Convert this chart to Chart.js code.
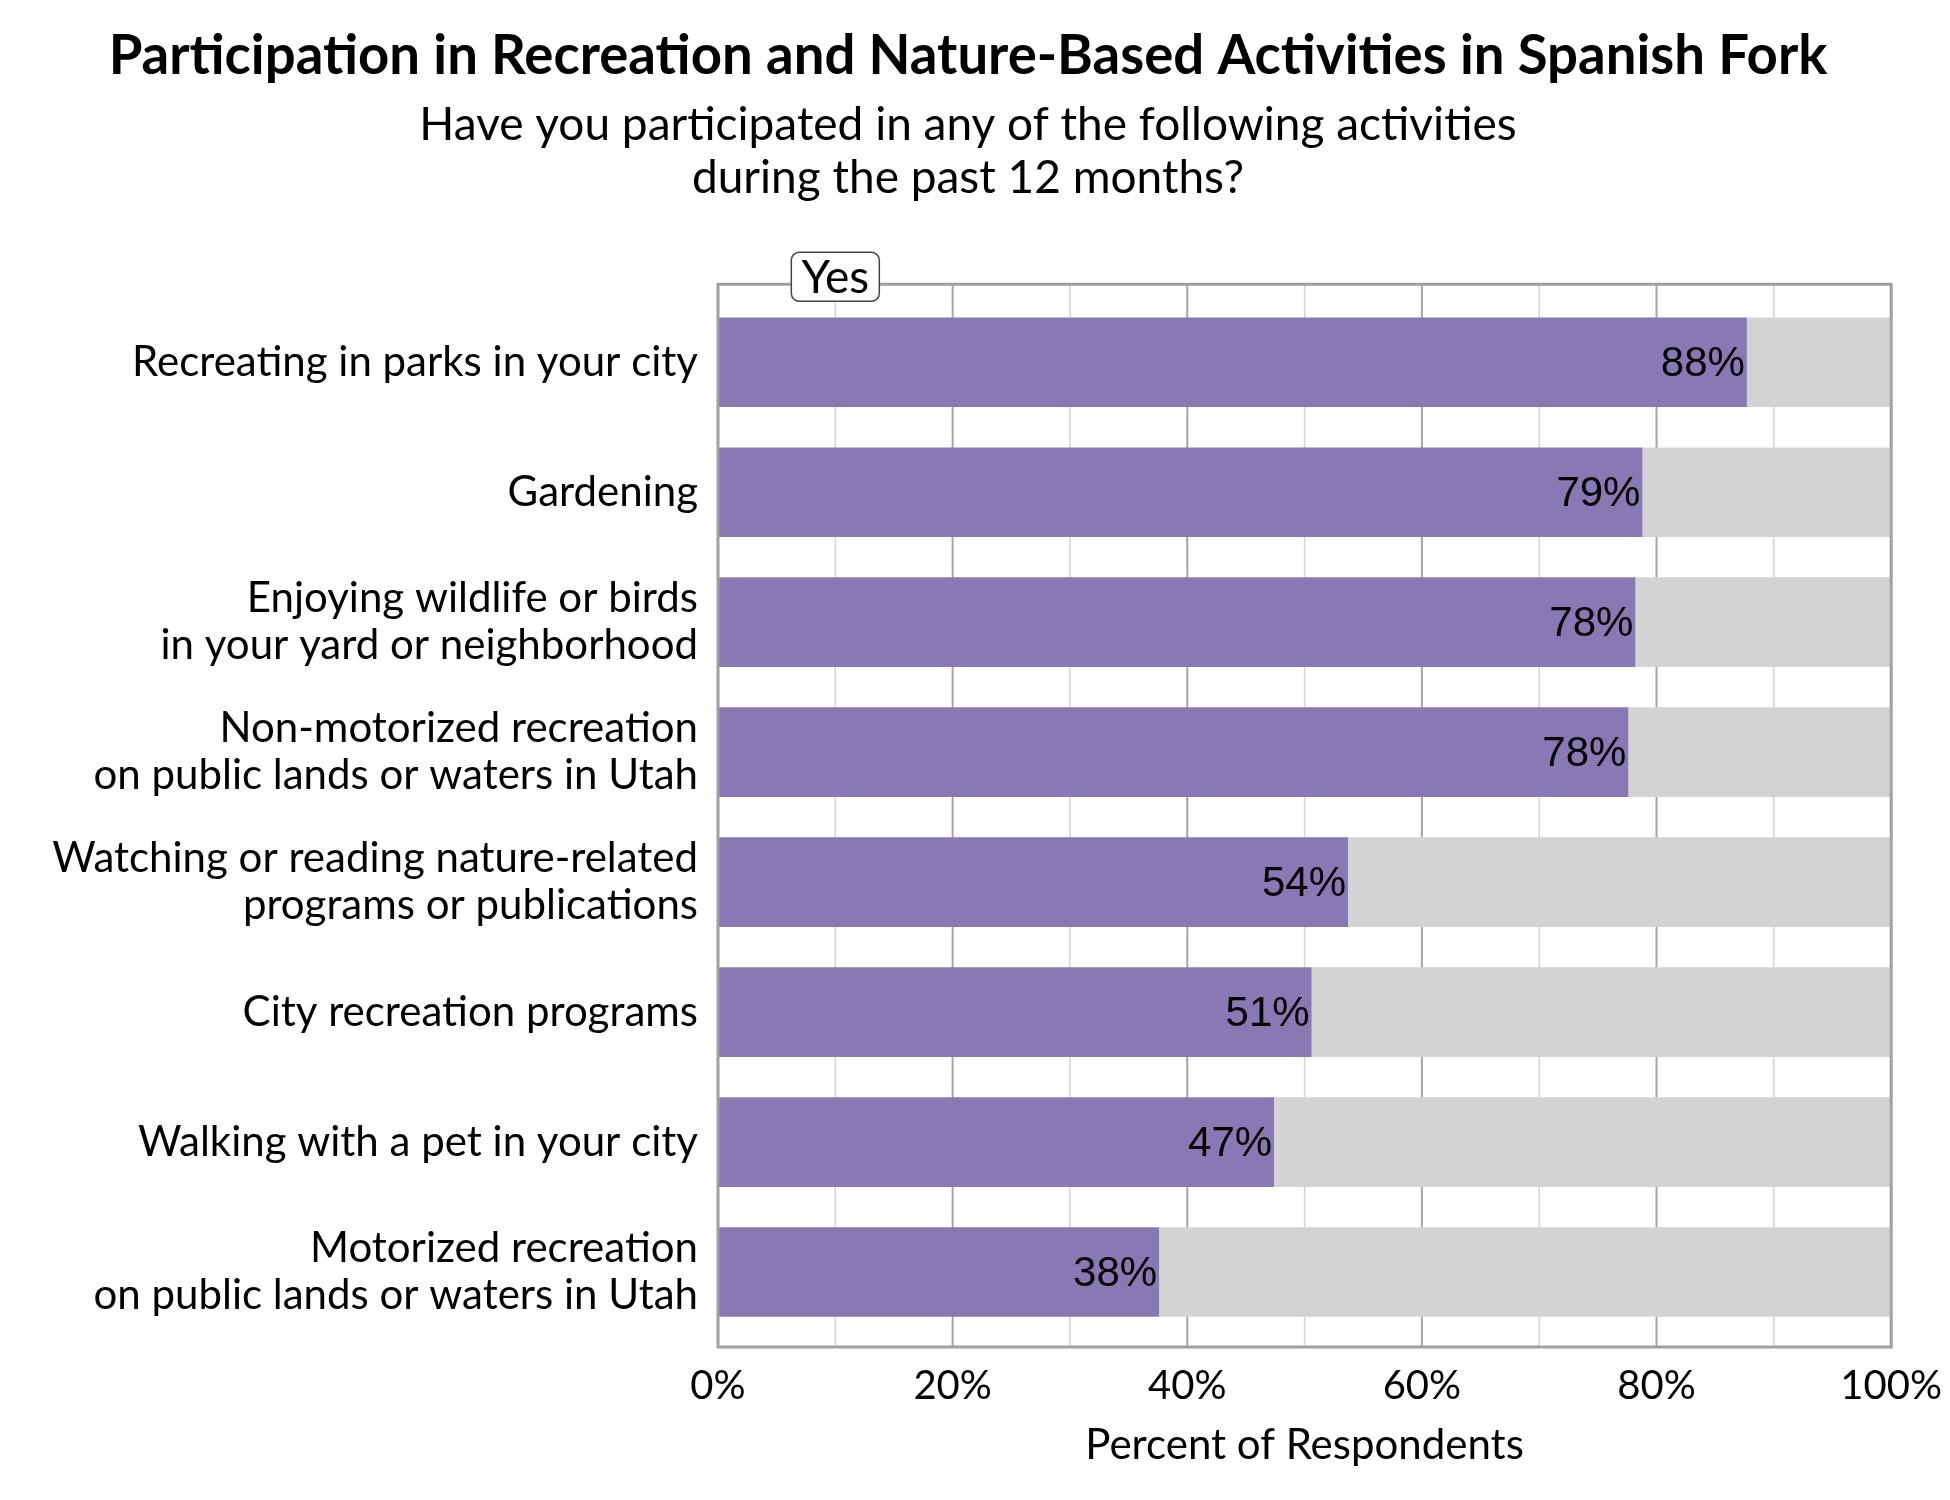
<!DOCTYPE html>
<html>
<head>
<meta charset="utf-8">
<title>Participation in Recreation and Nature-Based Activities</title>
<script src="https://cdn.jsdelivr.net/npm/chart.js@4.4.0/dist/chart.umd.min.js"></script>
<style>
  html, body { margin: 0; padding: 0; background: #ffffff; }
  #wrap { width: 1950px; height: 1500px; }
</style>
</head>
<body>
<div id="wrap"><canvas id="chart" width="1950" height="1500"></canvas></div>
<script>
const categories = [
    'Recreating in parks in your city',
    'Gardening',
    ['Enjoying wildlife or birds', 'in your yard or neighborhood'],
    ['Non-motorized recreation', 'on public lands or waters in Utah'],
    ['Watching or reading nature-related', 'programs or publications'],
    'City recreation programs',
    'Walking with a pet in your city',
    ['Motorized recreation', 'on public lands or waters in Utah']
];
const yesValues = [87.7, 78.8, 78.2, 77.6, 53.7, 50.6, 47.4, 37.6];
const restValues = [12.3, 21.2, 21.8, 22.4, 46.3, 49.4, 52.6, 62.4];
const xTicks = [0, 20, 40, 60, 80, 100];
const gridSteps = [0, 10, 20, 30, 40, 50, 60, 70, 80, 90, 100];

const labelFont = 'Lato, "Open Sans", sans-serif';
const purple = '#8879B4';
const grey = '#D3D3D3';
const frameColor = '#A0A0A0';
// the frame sits a little outside the band area, like the original
const frameTopGap = 13;
const frameBottomGap = 10;

function frameBox(chart) {
    const a = chart.chartArea;
    return { left: a.left, right: a.right, top: a.top - frameTopGap, bottom: a.bottom + frameBottomGap };
}

// vertical grid lines running the full height of the frame
const gridLines = {
    id: 'gridLines',
    beforeDatasetsDraw(chart) {
        const ctx = chart.ctx;
        const f = frameBox(chart);
        const x = chart.scales.x;
        ctx.save();
        gridSteps.forEach(v => {
            const px = x.getPixelForValue(v);
            ctx.beginPath();
            ctx.lineWidth = v % 20 === 0 ? 2 : 1.5;
            ctx.strokeStyle = v % 20 === 0 ? '#A6A6A6' : '#D4D4D4';
            ctx.moveTo(px, f.top);
            ctx.lineTo(px, f.bottom);
            ctx.stroke();
        });
        ctx.restore();
    }
};

// value labels at the end of each purple bar
const valueLabels = {
    id: 'valueLabels',
    afterDatasetsDraw(chart) {
        const ctx = chart.ctx;
        const meta = chart.getDatasetMeta(0);
        ctx.save();
        ctx.font = '42px "Liberation Sans", Arial, sans-serif';
        ctx.fillStyle = '#000000';
        ctx.textAlign = 'right';
        ctx.textBaseline = 'middle';
        meta.data.forEach((bar, i) => {
            ctx.fillText(Math.round(yesValues[i]) + '%', bar.x - 2, bar.y + 2);
        });
        ctx.restore();
    }
};

// frame round the plot plus the "Yes" tag on top
const frameAndTag = {
    id: 'frameAndTag',
    afterDraw(chart) {
        const ctx = chart.ctx;
        const f = frameBox(chart);
        ctx.save();
        ctx.strokeStyle = frameColor;
        ctx.lineWidth = 3;
        ctx.strokeRect(f.left, f.top, f.right - f.left, f.bottom - f.top);

        const cx = chart.scales.x.getPixelForValue(10);
        const w = 88, h = 49;
        const x0 = cx - w / 2, y0 = f.top - 32;
        ctx.beginPath();
        ctx.roundRect(x0, y0, w, h, 8);
        ctx.fillStyle = '#ffffff';
        ctx.fill();
        ctx.lineWidth = 1.5;
        ctx.strokeStyle = '#444444';
        ctx.stroke();
        ctx.fillStyle = '#000000';
        ctx.font = '46px ' + labelFont;
        ctx.textAlign = 'center';
        ctx.textBaseline = 'middle';
        ctx.fillText('Yes', cx, y0 + h / 2 + 1);
        ctx.restore();
    }
};

new Chart(document.getElementById('chart'), {
    type: 'bar',
    data: {
        labels: categories,
        datasets: [
            {
                label: 'Yes',
                data: yesValues,
                backgroundColor: purple,
                borderWidth: 0,
                categoryPercentage: 1,
                barPercentage: 0.69
            },
            {
                label: 'No',
                data: restValues,
                backgroundColor: grey,
                borderWidth: 0,
                categoryPercentage: 1,
                barPercentage: 0.69
            }
        ]
    },
    options: {
        indexAxis: 'y',
        responsive: false,
        animation: false,
        devicePixelRatio: 1,
        // right edge of the plot is set by the half width of the "100%" label
        layout: { padding: { left: 0, right: 14, top: 0, bottom: 45 } },
        plugins: {
            legend: { display: false },
            tooltip: { enabled: false },
            title: {
                display: true,
                text: 'Participation in Recreation and Nature-Based Activities in Spanish Fork',
                color: '#000000',
                font: { family: labelFont, size: 54.5, weight: 'bold', lineHeight: 1.2 },
                padding: { top: 24, bottom: 0 }
            },
            subtitle: {
                display: true,
                text: ['Have you participated in any of the following activities', 'during the past 12 months?'],
                color: '#000000',
                font: { family: labelFont, size: 46, lineHeight: 1.14 },
                padding: { top: 10, bottom: 93 }
            }
        },
        scales: {
            x: {
                stacked: true,
                min: 0,
                max: 100,
                border: { display: false },
                grid: { display: false, drawTicks: false },
                ticks: {
                    stepSize: 10,
                    autoSkip: false,
                    maxRotation: 0,
                    padding: 8,
                    color: '#000000',
                    font: { family: labelFont, size: 40, lineHeight: 2.05 },
                    callback: v => (xTicks.includes(v) ? v + '%' : '')
                },
                title: {
                    display: true,
                    text: 'Percent of Respondents',
                    color: '#000000',
                    font: { family: labelFont, size: 42, lineHeight: 0.476 },
                    padding: { top: 0, bottom: 0 }
                }
            },
            y: {
                stacked: true,
                border: { display: false },
                grid: { display: false, drawTicks: false },
                ticks: {
                    padding: 20,
                    color: '#000000',
                    font: { family: labelFont, size: 42, lineHeight: 1.13 }
                },
                afterFit(scale) { scale.width = 718; }
            }
        }
    },
    plugins: [gridLines, valueLabels, frameAndTag]
});
</script>
</body>
</html>
